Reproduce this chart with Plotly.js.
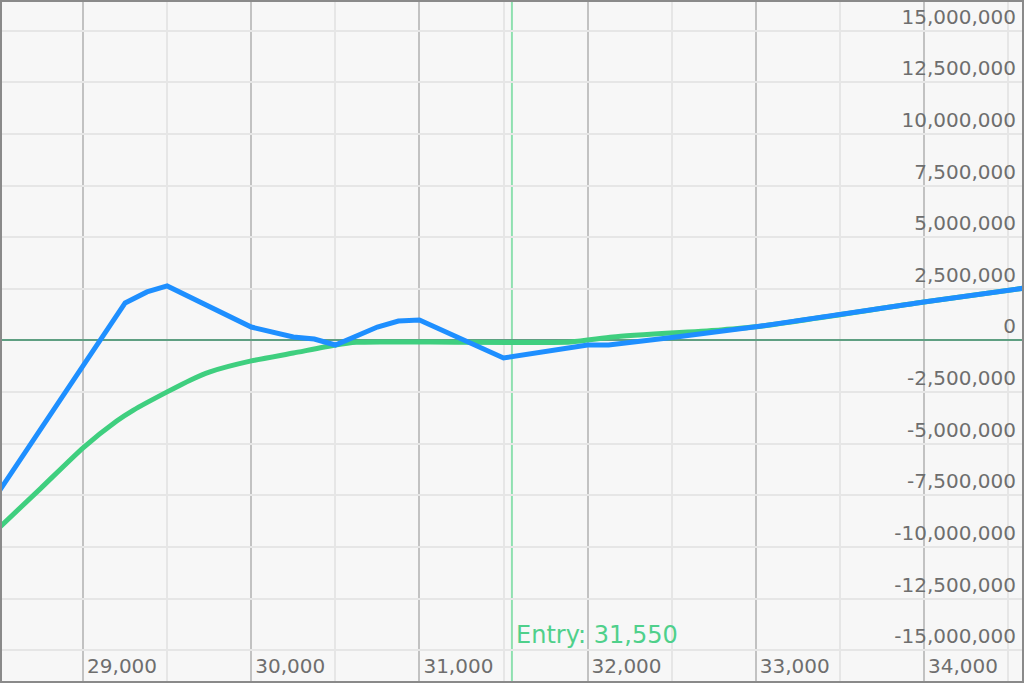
<!DOCTYPE html>
<html>
<head>
<meta charset="utf-8">
<script src="https://cdn.plot.ly/plotly-3.0.1.min.js"></script>
<style>
  html, body { margin: 0; padding: 0; background: #f7f7f7; }
  #chart { width: 1024px; height: 683px; }
</style>
</head>
<body>
<div id="chart"></div>
<script>
// Blue series (P&L now)
const blueX = [28506, 29250, 29380, 29500, 30000, 30250, 30375, 30500, 30750, 30875, 31000, 31500, 32000, 32125, 32550, 32790, 33000, 34000, 34600];
const blueY = [-7240000, 1820000, 2350000, 2640000, 650000, 170000, 70000, -220000, 650000, 940000, 990000, -850000, -220000, -220000, 190000, 440000, 660000, 1860000, 2540000];

// Green series (P&L at expiry)
const greenX = [28506, 28750, 29000, 29200, 29300, 29500, 29640, 29750, 30000, 30250, 30500, 30625, 30800, 31900, 32150, 32790, 33000, 34000, 34600];
const greenY = [-9030000, -7150000, -5200000, -3900000, -3370000, -2490000, -1910000, -1530000, -990000, -610000, -220000, -90000, -70000, -70000, 170000, 510000, 660000, 1860000, 2540000];

// Entry price
const entryPrice = 31550;
const entryLabel = "Entry: 31,550";

// Tick labels
const xTickVals = [29000, 30000, 31000, 32000, 33000, 34000];
const xTickText = ["29,000", "30,000", "31,000", "32,000", "33,000", "34,000"];
const yTickVals = [-15000000, -12500000, -10000000, -7500000, -5000000, -2500000, 0, 2500000, 5000000, 7500000, 10000000, 12500000, 15000000];
const yTickText = ["-15,000,000", "-12,500,000", "-10,000,000", "-7,500,000", "-5,000,000", "-2,500,000", "0", "2,500,000", "5,000,000", "7,500,000", "10,000,000", "12,500,000", "15,000,000"];
const yMajorLines = [-10000000, 10000000];

const FONT = "DejaVu Sans, Verdana, sans-serif";
const TICKFONT = { family: FONT, size: 20, color: '#6e6e6e' };

const traces = [
  {
    x: greenX, y: greenY, type: 'scatter', mode: 'lines',
    line: { color: '#3fcf7f', width: 5, shape: 'spline', smoothing: 0.6 }, hoverinfo: 'skip', showlegend: false
  },
  {
    x: blueX, y: blueY, type: 'scatter', mode: 'lines',
    line: { color: '#1e8fff', width: 5 }, hoverinfo: 'skip', showlegend: false
  }
];

const shapes = yMajorLines.map(v => ({
  type: 'line', xref: 'paper', x0: 0, x1: 1, yref: 'y', y0: v, y1: v,
  line: { color: '#c2c2c2', width: 2 }, layer: 'between'
}));
shapes.push({
  type: 'line', xref: 'x', x0: entryPrice, x1: entryPrice, yref: 'paper', y0: 0, y1: 1,
  line: { color: '#8fe0b0', width: 2 }, layer: 'between'
});
// frame
shapes.push({
  type: 'rect', xref: 'paper', yref: 'paper', x0: 0, x1: 1, y0: 0, y1: 1,
  line: { color: '#8a8a8a', width: 4 }, fillcolor: 'rgba(0,0,0,0)', layer: 'above'
});

const layout = {
  width: 1024, height: 683,
  margin: { l: 0, r: 0, t: 0, b: 0, pad: 0 },
  paper_bgcolor: '#f7f7f7', plot_bgcolor: '#f7f7f7',
  showlegend: false,
  font: { family: FONT, size: 20, color: '#6e6e6e' },
  xaxis: {
    range: [28506, 34595],
    tickmode: 'array', tickvals: xTickVals, ticktext: xTickText,
    ticklabelposition: 'inside right', ticks: '', ticklabelshift: 4, ticklabeloverflow: 'allow',
    showgrid: true, gridcolor: '#c2c2c2', gridwidth: 2,
    minor: { tickmode: 'linear', dtick: 500, tick0: 28500, showgrid: true, gridcolor: '#e6e6e6', gridwidth: 2 },
    zeroline: false, showline: false,
    tickfont: TICKFONT,
    fixedrange: true
  },
  yaxis: {
    side: 'right',
    range: [-16590000, 16490000],
    tickmode: 'array', tickvals: yTickVals, ticktext: yTickText,
    ticklabelposition: 'inside top', ticks: '', ticklabelstandoff: 5, ticklabeloverflow: 'allow',
    showgrid: true, gridcolor: '#e6e6e6', gridwidth: 2,
    zeroline: true, zerolinecolor: '#5f9f82', zerolinewidth: 2,
    showline: false,
    tickfont: TICKFONT,
    fixedrange: true
  },
  shapes: shapes,
  annotations: [{
    x: entryPrice, xref: 'x', xanchor: 'left', xshift: 2,
    y: 0.07, yref: 'paper', yanchor: 'middle',
    text: entryLabel, showarrow: false,
    font: { family: FONT, size: 24, color: '#4fd08b' }
  }]
};

Plotly.newPlot('chart', traces, layout, { displayModeBar: false, staticPlot: true });
</script>
</body>
</html>
